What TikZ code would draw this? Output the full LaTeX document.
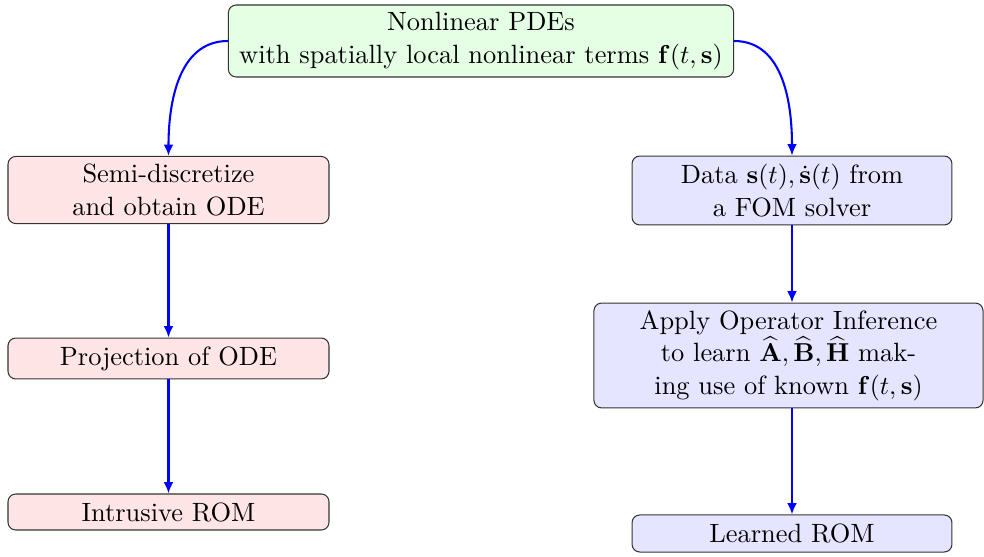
\documentclass[tikz,border=0pt]{standalone}
\usetikzlibrary{arrows.meta}
\begin{document}
\begin{tikzpicture}[x=0.386pt,y=-0.386pt,
  box/.style={draw=black!80,rounded corners=3pt,align=center,inner sep=0pt,line width=0.4pt,
    font=\fontsize{10.2}{12.6}\selectfont},
  greenbox/.style={box,fill=green!10},
  redbox/.style={box,fill=red!10},
  bluebox/.style={box,fill=blue!10},
  flow/.style={blue,line width=0.8pt,-{Latex[length=4.4pt,width=3.8pt]}}]
\useasboundingbox (0,0) rectangle (984,557);
\node[greenbox,minimum width=195pt,minimum height=27.8pt] (top) at (481,41)
  {Nonlinear PDEs\\ with spatially local nonlinear terms $\mathbf{f}(t,\mathbf{s})$};
\node[redbox,minimum width=123.9pt,minimum height=25.9pt] (l1) at (168.5,190)
  {Semi-discretize\\ and obtain ODE};
\node[redbox,minimum width=123.9pt,minimum height=15.8pt] (l2) at (168.5,358.5)
  {Projection of ODE};
\node[redbox,minimum width=123.9pt,minimum height=13.9pt] (l3) at (168.5,512)
  {Intrusive ROM};
\node[bluebox,minimum width=123.5pt,minimum height=26.6pt] (r1) at (792,190.5)
  {Data $\mathbf{s}(t),\dot{\mathbf{s}}(t)$ from\\ a FOM solver};
\node[bluebox,minimum width=150.2pt,minimum height=40.5pt] (r2) at (788.5,355.5)
  {Apply Operator Inference\\ to learn $\widehat{\mathbf{A}},\widehat{\mathbf{B}},\widehat{\mathbf{H}}$ mak-\\ ing use of known $\mathbf{f}(t,\mathbf{s})$};
\node[bluebox,minimum width=123.5pt,minimum height=14.3pt] (r3) at (792,533.5)
  {Learned ROM};
\draw[flow] (top.west) to[out=180,in=90] (l1.north);
\draw[flow] (top.east) to[out=0,in=90] (r1.north);
\draw[flow] (l1.south) -- (l2.north);
\draw[flow] (l2.south) -- (l3.north);
\draw[flow] (r1.south) -- (r1.south |- r2.north);
\draw[flow] (r3.north |- r2.south) -- (r3.north);
\end{tikzpicture}
\end{document}
